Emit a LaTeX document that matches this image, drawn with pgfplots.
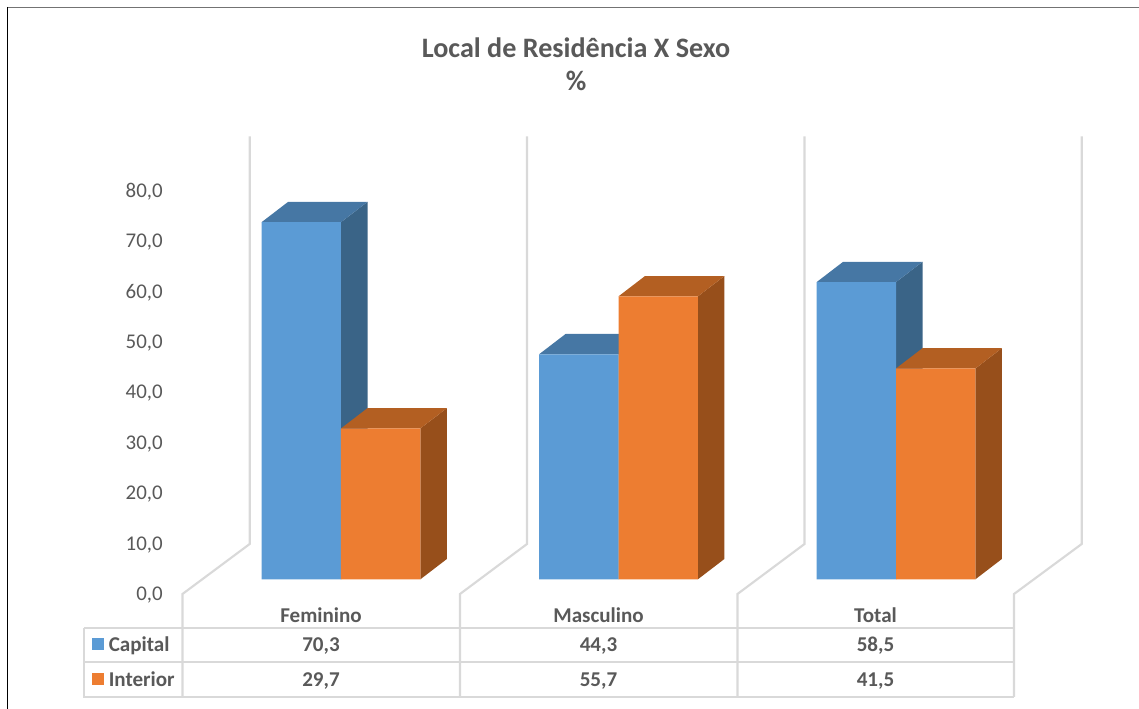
\documentclass[border=0pt]{standalone}
\usepackage{fontspec}
\setmainfont{Carlito}
\usepackage{pgfplots}
\pgfplotsset{compat=1.18}
\definecolor{capfront}{HTML}{5B9BD5}
\definecolor{capside}{HTML}{3A6487}
\definecolor{captop}{HTML}{4677A4}
\definecolor{intfront}{HTML}{ED7D31}
\definecolor{intside}{HTML}{974F1B}
\definecolor{inttop}{HTML}{B35F22}
\definecolor{gridc}{HTML}{D9D9D9}
\definecolor{textc}{HTML}{595959}
\begin{document}
\begin{tikzpicture}
\useasboundingbox (0,0) rectangle (854.25pt,531.75pt);
% pixel coordinates of the reference: x right, y down
\begin{scope}[x=0.75pt,y=-0.75pt,yshift=531.75pt]
  \draw[black!55,line width=1.1pt] (7.5,7.5) -- (1139,7.5);
  \draw[black,line width=1.4pt] (7.5,7) -- (7.5,709);
  \node[text=textc,font=\fontsize{21.1pt}{24pt}\selectfont\bfseries] at (576,48) {Local de Residência X Sexo};
  \node[text=textc,font=\fontsize{21.1pt}{24pt}\selectfont\bfseries] at (576,81) {\%};
  \begin{scope}[draw=gridc,line width=1.6pt,line join=miter]
    \foreach \a/\b in {249.7/182.5,527/460,804.5/737.5,1081.7/1014}{
      \draw (\a,136.5) -- (\a,544) -- (\b,594) -- (\b,697);
    }
    \draw (84,627.7) -- (1014,627.7);
    \draw (84,662) -- (1014,662);
    \draw (84,627.7) -- (84,697) -- (1014,697);
  \end{scope}
  \fill[capfront] (92,638) rectangle (104,650);
  \fill[intfront] (92,673) rectangle (104,685);
  \begin{scope}[every node/.style={text=textc,inner sep=0pt,font=\fontsize{15.8pt}{18pt}\selectfont\bfseries}]
    \node[anchor=base west] at (108.5,652) {Capital};
    \node[anchor=base west] at (108.5,687) {Interior};
    \node[anchor=base] at (321,622.5) {Feminino};
    \node[anchor=base] at (598.5,622.5) {Masculino};
    \node[anchor=base] at (875.5,622.5) {Total};
    \node[anchor=base] at (321,652) {70,3};
    \node[anchor=base] at (598.5,652) {44,3};
    \node[anchor=base] at (875.5,652) {58,5};
    \node[anchor=base] at (321,687) {29,7};
    \node[anchor=base] at (598.5,687) {55,7};
    \node[anchor=base] at (875.5,687) {41,5};
  \end{scope}
\end{scope}
% bars: one x unit = 277.5 px, one y unit = 5.08 px
\begin{axis}[
  at={(0,0)},anchor=south west,scale only axis,
  width=854.25pt,height=531.75pt,
  xmin=-1.2288,xmax=2.8757,ymin=-25.53,ymax=114.04,
  hide axis,clip=false,
]
% Capital
\addplot[fill=capside,draw=none] coordinates {(0,0)(0.0955,4)(0.0955,74.3)(0,70.3)} --cycle;
\addplot[fill=captop,draw=none] coordinates {(-0.2861,70.3)(-0.1906,74.3)(0.0955,74.3)(0,70.3)} --cycle;
\addplot[fill=capside,draw=none] coordinates {(1,0)(1.0955,4)(1.0955,48.3)(1,44.3)} --cycle;
\addplot[fill=captop,draw=none] coordinates {(0.7139,44.3)(0.8094,48.3)(1.0955,48.3)(1,44.3)} --cycle;
\addplot[fill=capside,draw=none] coordinates {(2,0)(2.0955,4)(2.0955,62.5)(2,58.5)} --cycle;
\addplot[fill=captop,draw=none] coordinates {(1.7139,58.5)(1.8094,62.5)(2.0955,62.5)(2,58.5)} --cycle;
\addplot[ybar,bar width=0.2861,bar shift=-0.14305,fill=capfront,draw=none] coordinates {(0,70.3)(1,44.3)(2,58.5)};
% Interior
\addplot[fill=intside,draw=none] coordinates {(0.2861,0)(0.3816,4)(0.3816,33.7)(0.2861,29.7)} --cycle;
\addplot[fill=inttop,draw=none] coordinates {(0,29.7)(0.0955,33.7)(0.3816,33.7)(0.2861,29.7)} --cycle;
\addplot[fill=intside,draw=none] coordinates {(1.2861,0)(1.3816,4)(1.3816,59.7)(1.2861,55.7)} --cycle;
\addplot[fill=inttop,draw=none] coordinates {(1,55.7)(1.0955,59.7)(1.3816,59.7)(1.2861,55.7)} --cycle;
\addplot[fill=intside,draw=none] coordinates {(2.2861,0)(2.3816,4)(2.3816,45.5)(2.2861,41.5)} --cycle;
\addplot[fill=inttop,draw=none] coordinates {(2,41.5)(2.0955,45.5)(2.3816,45.5)(2.2861,41.5)} --cycle;
\addplot[ybar,bar width=0.2861,bar shift=0.14305,fill=intfront,draw=none] coordinates {(0,29.7)(1,55.7)(2,41.5)};
\end{axis}
% value scale, set on the back plane
\begin{axis}[
  at={(122.25pt,-1.125pt)},anchor=south west,scale only axis,
  width=10pt,height=531.75pt,
  xmin=0,xmax=1,ymin=-22.77,ymax=117.62,
  axis x line=none,axis y line*=left,
  axis line style={draw=none},
  major tick length=0pt,
  ytick={0,10,...,80},
  yticklabel style={text=textc,font=\fontsize{15.7pt}{18pt}\selectfont,inner sep=0pt,
    /pgf/number format/.cd,fixed,fixed zerofill,precision=1,use comma,assume math mode=true},
]
\addplot[draw=none] coordinates {(0,0)(1,80)};
\end{axis}
\end{tikzpicture}
\end{document}
